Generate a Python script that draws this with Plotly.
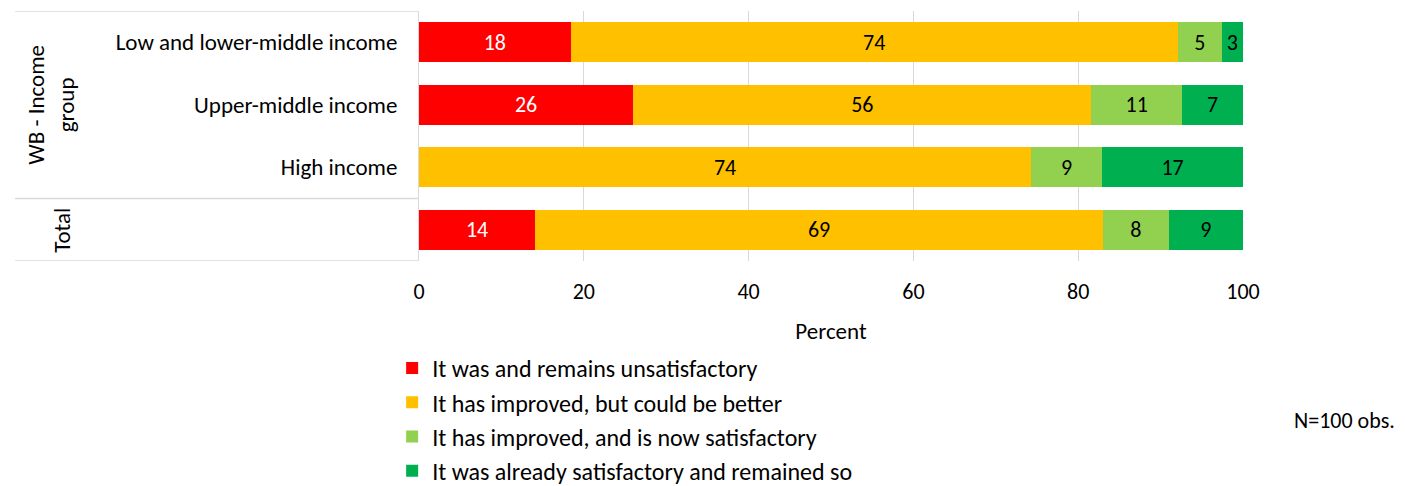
import plotly.graph_objects as go

categories = ["Low and lower-middle income", "Upper-middle income", "High income", ""]
series_names = [
    "It was and remains unsatisfactory",
    "It has improved, but could be better",
    "It has improved, and is now satisfactory",
    "It was already satisfactory and remained so",
]
unsatisfactory = [18.4, 26.0, 0.0, 14.1]
improved_better = [73.7, 55.6, 74.3, 68.9]
improved_satisfactory = [5.3, 11.0, 8.6, 8.0]
already_satisfactory = [2.6, 7.4, 17.1, 9.0]
labels_unsat = ["18", "26", "", "14"]
labels_better = ["74", "56", "74", "69"]
labels_sat = ["5", "11", "9", "8"]
labels_already = ["3", "7", "17", "9"]
x_ticks = [0, 20, 40, 60, 80, 100]

colors = ["#FF0000", "#FFC000", "#92D050", "#00B050"]
text_colors = ["white", "black", "black", "black"]
FONT = "Carlito, Lato, sans-serif"

positions = list(range(len(categories)))
fig = go.Figure()
for name, vals, labs, col, tcol in zip(
    series_names,
    [unsatisfactory, improved_better, improved_satisfactory, already_satisfactory],
    [labels_unsat, labels_better, labels_sat, labels_already],
    colors, text_colors,
):
    fig.add_trace(go.Bar(
        y=positions, x=vals, orientation="h", name=name,
        marker=dict(color=col, line=dict(width=0)),
        text=labs, textposition="inside", insidetextanchor="middle",
        textfont=dict(color=tcol, size=22, family=FONT),
        textangle=0, constraintext="none", hoverinfo="x+name",
    ))

fig.update_layout(
    barmode="stack", bargap=0.36,
    width=1405, height=486,
    margin=dict(l=411, r=170, t=3, b=233, autoexpand=False),
    plot_bgcolor="white", paper_bgcolor="white",
    font=dict(family=FONT, size=23, color="black"),
    showlegend=True,
    legend=dict(
        x=-0.0326, y=-0.34, xanchor="left", yanchor="top",
        font=dict(size=24, family=FONT), traceorder="normal",
        itemclick=False, itemdoubleclick=False,
    ),
    xaxis=dict(
        range=[0, 100], tickvals=x_ticks, showgrid=True, gridcolor="#D9D9D9",
        gridwidth=1, zeroline=False, showline=False,
        ticks="", ticklabelstandoff=15,
        title=dict(text="Percent", standoff=18, font=dict(size=23)),
        tickfont=dict(size=22),
    ),
    yaxis=dict(
        range=[3.5, -0.5], tickvals=positions, ticktext=categories,
        showgrid=False, zeroline=False, showline=True, linecolor="#D9D9D9",
        linewidth=1, ticks="", ticklabelstandoff=16, tickfont=dict(size=23),
    ),
)

# left category table lines
for yv in [-0.5, 2.5, 3.5]:
    fig.add_shape(type="line", xref="paper", yref="y", x0=-0.4903, x1=0,
                  y0=yv, y1=yv, line=dict(color="#D9D9D9", width=1.5))

fig.add_annotation(text="WB - Income<br>group", xref="paper", yref="y",
                   x=-0.4466, y=1, textangle=-90, showarrow=False,
                   xanchor="center", yanchor="middle",
                   font=dict(size=23), align="center")
fig.add_annotation(text="Total", xref="paper", yref="y",
                   x=-0.4333, y=3, textangle=-90, showarrow=False,
                   xanchor="center", yanchor="middle",
                   font=dict(size=23))
fig.add_annotation(text="N=100 obs.", xref="paper", yref="paper",
                   x=1.1226, y=-0.636, showarrow=False,
                   xanchor="center", yanchor="middle", font=dict(size=22))

fig.write_html("out.html")
